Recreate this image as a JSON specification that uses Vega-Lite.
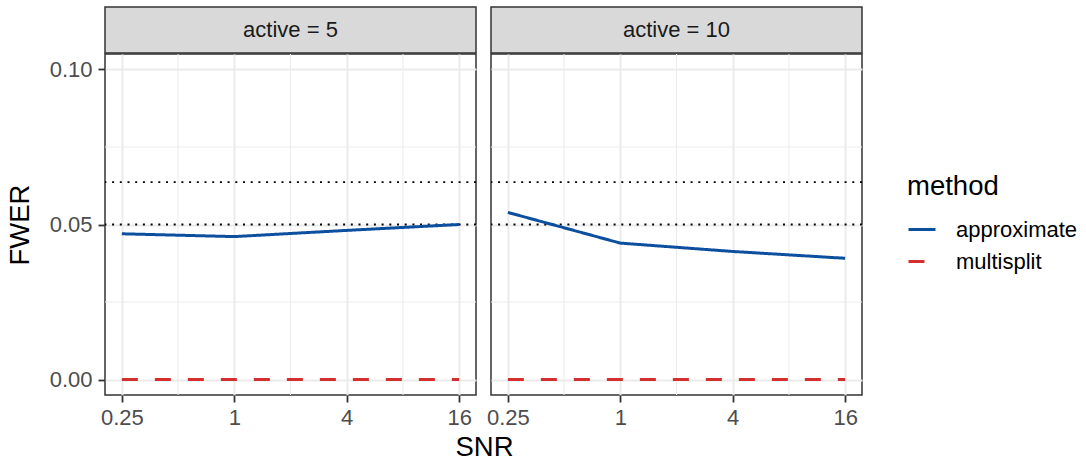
{
  "$schema": "https://vega.github.io/schema/vega-lite/v6.json",
  "padding": {"left": 5, "top": 6, "right": 5, "bottom": 0},
  "datasets": {
    "fwer": [
      {"active": 5, "method": "approximate", "SNR": 0.25, "FWER": 0.047},
      {"active": 5, "method": "approximate", "SNR": 1, "FWER": 0.0461},
      {"active": 5, "method": "approximate", "SNR": 4, "FWER": 0.0481},
      {"active": 5, "method": "approximate", "SNR": 16, "FWER": 0.050},
      {"active": 5, "method": "multisplit", "SNR": 0.25, "FWER": 0},
      {"active": 5, "method": "multisplit", "SNR": 1, "FWER": 0},
      {"active": 5, "method": "multisplit", "SNR": 4, "FWER": 0},
      {"active": 5, "method": "multisplit", "SNR": 16, "FWER": 0},
      {"active": 10, "method": "approximate", "SNR": 0.25, "FWER": 0.0539},
      {"active": 10, "method": "approximate", "SNR": 1, "FWER": 0.044},
      {"active": 10, "method": "approximate", "SNR": 4, "FWER": 0.0413},
      {"active": 10, "method": "approximate", "SNR": 16, "FWER": 0.0391},
      {"active": 10, "method": "multisplit", "SNR": 0.25, "FWER": 0},
      {"active": 10, "method": "multisplit", "SNR": 1, "FWER": 0},
      {"active": 10, "method": "multisplit", "SNR": 4, "FWER": 0},
      {"active": 10, "method": "multisplit", "SNR": 16, "FWER": 0}
    ],
    "strips": [
      {"active": 5, "label": "active = 5"},
      {"active": 10, "label": "active = 10"}
    ],
    "thresholds": [{"FWER": 0.05}, {"FWER": 0.0637}],
    "minor_x": [{"SNR": 0.5}, {"SNR": 2}, {"SNR": 8}],
    "minor_y": [{"FWER": 0.025}, {"FWER": 0.075}]
  },
  "spacing": -4,
  "resolve": {"scale": {"color": "shared", "strokeDash": "shared"}, "legend": {"color": "shared", "strokeDash": "shared"}},
  "vconcat": [
    {
      "spacing": 15,
      "bounds": "flush",
      "hconcat": [
        {
          "width": 371, "height": 46,
          "view": {"fill": "#D9D9D9", "stroke": "#333333", "strokeWidth": 1.5},
          "data": {"name": "strips"},
          "transform": [{"filter": "datum.active == 5"}],
          "mark": {"type": "text", "fontSize": 22, "color": "#1A1A1A", "baseline": "middle", "align": "center"},
          "encoding": {"text": {"field": "label", "type": "nominal"}}
        },
        {
          "width": 371, "height": 46,
          "view": {"fill": "#D9D9D9", "stroke": "#333333", "strokeWidth": 1.5},
          "data": {"name": "strips"},
          "transform": [{"filter": "datum.active == 10"}],
          "mark": {"type": "text", "fontSize": 22, "color": "#1A1A1A", "baseline": "middle", "align": "center"},
          "encoding": {"text": {"field": "label", "type": "nominal"}}
        }
      ]
    },
    {
      "spacing": 15,
      "bounds": "flush",
      "resolve": {"scale": {"color": "shared", "strokeDash": "shared"}, "legend": {"color": "shared", "strokeDash": "shared"}},
      "hconcat": [
        {
          "width": 371, "height": 341,
          "layer": [
            {
              "data": {"name": "minor_x"},
              "mark": {"type": "rule", "color": "#EBEBEB", "strokeWidth": 1},
              "encoding": {
                "x": {"field": "SNR", "type": "quantitative", "scale": {"type": "log", "base": 2, "domain": [0.20306, 19.698], "nice": false}, "axis": {"values": [0.25, 1, 4, 16], "format": "~g", "title": "SNR", "titleX": 379}}
              }
            },
            {
              "data": {"name": "minor_y"},
              "mark": {"type": "rule", "color": "#EBEBEB", "strokeWidth": 1},
              "encoding": {
                "y": {"field": "FWER", "type": "quantitative", "scale": {"domain": [-0.005, 0.105], "nice": false, "zero": false}, "axis": {"values": [0, 0.05, 0.1], "format": ".2f", "title": "FWER"}}
              }
            },
            {
              "data": {"name": "thresholds"},
              "mark": {"type": "rule", "color": "black", "strokeWidth": 1.8, "strokeDash": [2, 5.7]},
              "encoding": {
                "y": {"field": "FWER", "type": "quantitative", "scale": {"domain": [-0.005, 0.105], "nice": false, "zero": false}, "axis": {"values": [0, 0.05, 0.1], "format": ".2f", "title": "FWER"}}
              }
            },
            {
              "data": {"name": "fwer"},
              "transform": [{"filter": "datum.active == 5"}],
              "mark": {"type": "line", "strokeWidth": 3},
              "encoding": {
                "x": {"field": "SNR", "type": "quantitative", "scale": {"type": "log", "base": 2, "domain": [0.20306, 19.698], "nice": false}, "axis": {"values": [0.25, 1, 4, 16], "format": "~g", "title": "SNR", "titleX": 379}},
                "y": {"field": "FWER", "type": "quantitative", "scale": {"domain": [-0.005, 0.105], "nice": false, "zero": false}, "axis": {"values": [0, 0.05, 0.1], "format": ".2f", "title": "FWER"}},
                "color": {"field": "method", "type": "nominal", "title": "method", "scale": {"domain": ["approximate", "multisplit"], "range": ["#0C4F9E", "#D32F2F"]}},
                "strokeDash": {"field": "method", "type": "nominal", "title": "method", "scale": {"domain": ["approximate", "multisplit"], "range": [[1, 0], [16, 17]]}}
              }
            }
          ]
        },
        {
          "width": 371, "height": 341,
          "layer": [
            {
              "data": {"name": "minor_x"},
              "mark": {"type": "rule", "color": "#EBEBEB", "strokeWidth": 1},
              "encoding": {
                "x": {"field": "SNR", "type": "quantitative", "scale": {"type": "log", "base": 2, "domain": [0.20306, 19.698], "nice": false}, "axis": {"values": [0.25, 1, 4, 16], "format": "~g", "title": null}}
              }
            },
            {
              "data": {"name": "minor_y"},
              "mark": {"type": "rule", "color": "#EBEBEB", "strokeWidth": 1},
              "encoding": {
                "y": {"field": "FWER", "type": "quantitative", "scale": {"domain": [-0.005, 0.105], "nice": false, "zero": false}, "axis": {"values": [0, 0.05, 0.1], "labels": false, "ticks": false, "title": null}}
              }
            },
            {
              "data": {"name": "thresholds"},
              "mark": {"type": "rule", "color": "black", "strokeWidth": 1.8, "strokeDash": [2, 5.7]},
              "encoding": {
                "y": {"field": "FWER", "type": "quantitative", "scale": {"domain": [-0.005, 0.105], "nice": false, "zero": false}, "axis": {"values": [0, 0.05, 0.1], "labels": false, "ticks": false, "title": null}}
              }
            },
            {
              "data": {"name": "fwer"},
              "transform": [{"filter": "datum.active == 10"}],
              "mark": {"type": "line", "strokeWidth": 3},
              "encoding": {
                "x": {"field": "SNR", "type": "quantitative", "scale": {"type": "log", "base": 2, "domain": [0.20306, 19.698], "nice": false}, "axis": {"values": [0.25, 1, 4, 16], "format": "~g", "title": null}},
                "y": {"field": "FWER", "type": "quantitative", "scale": {"domain": [-0.005, 0.105], "nice": false, "zero": false}, "axis": {"values": [0, 0.05, 0.1], "labels": false, "ticks": false, "title": null}},
                "color": {"field": "method", "type": "nominal", "title": "method", "scale": {"domain": ["approximate", "multisplit"], "range": ["#0C4F9E", "#D32F2F"]}},
                "strokeDash": {"field": "method", "type": "nominal", "title": "method", "scale": {"domain": ["approximate", "multisplit"], "range": [[1, 0], [16, 17]]}}
              }
            }
          ]
        }
      ]
    }
  ],
  "config": {
    "font": "Liberation Sans",
    "view": {"stroke": "#333333", "strokeWidth": 1.5},
    "axis": {
      "domain": false,
      "tickColor": "#333333",
      "tickWidth": 1.8,
      "tickSize": 7,
      "labelColor": "#4D4D4D",
      "labelFontSize": 22,
      "labelFont": "Liberation Sans",
      "titleFont": "Liberation Sans",
      "titleFontSize": 27.5,
      "titleFontWeight": "normal",
      "titleColor": "black",
      "gridColor": "#EBEBEB",
      "gridWidth": 2
    },
    "axisX": {"labelPadding": 5, "titlePadding": 5},
    "axisY": {"labelPadding": 6, "titlePadding": 15},
    "legend": {
      "orient": "none",
      "legendX": 802,
      "legendY": 166,
      "padding": 0,
      "titleFont": "Liberation Sans",
      "labelFont": "Liberation Sans",
      "titleFontSize": 27.5,
      "titleFontWeight": "normal",
      "titleColor": "black",
      "titlePadding": 14,
      "labelFontSize": 22,
      "labelColor": "black",
      "labelOffset": 19,
      "symbolType": "stroke",
      "symbolSize": 729,
      "symbolStrokeWidth": 3,
      "rowPadding": 6
    }
  }
}
